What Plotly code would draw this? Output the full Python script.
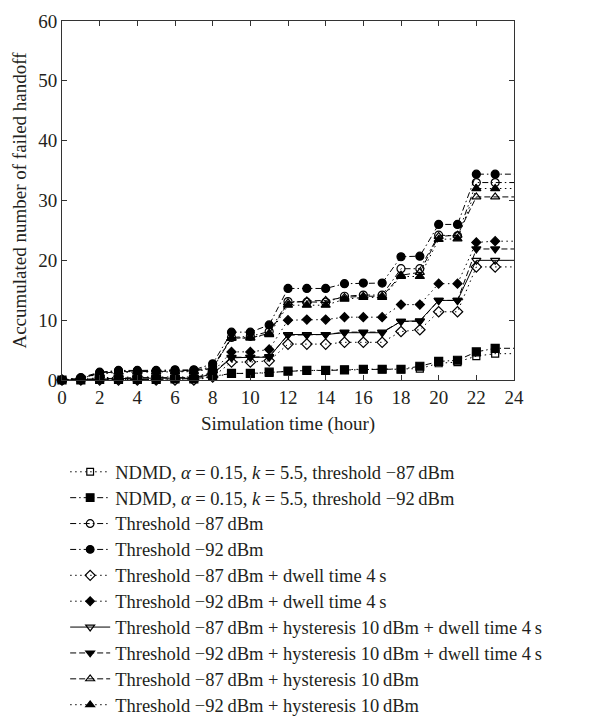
import plotly.graph_objects as go

hours = list(range(0, 25))

ndmd_87 = [0, 0, 0.1, 0.1, 0.1, 0.1, 0.2, 0.2, 0.5, 1.1, 1.1, 1.2, 1.5, 1.6, 1.6, 1.7, 1.8, 1.8, 1.8, 1.9, 2.8, 3.0, 4.0, 4.4, 4.4]
ndmd_92 = [0, 0, 0.1, 0.1, 0.1, 0.1, 0.2, 0.2, 0.6, 1.1, 1.1, 1.3, 1.5, 1.6, 1.6, 1.7, 1.8, 1.8, 1.8, 2.3, 3.1, 3.3, 4.7, 5.3, 5.3]
thr_87 = [0, 0.3, 1.2, 1.5, 1.5, 1.5, 1.6, 1.6, 2.2, 7.1, 7.3, 8.1, 13.1, 13.0, 13.0, 14.0, 14.2, 14.2, 18.6, 18.6, 24.2, 24.1, 33.0, 33.0, 33.0]
thr_92 = [0, 0.4, 1.3, 1.6, 1.6, 1.6, 1.7, 1.7, 2.7, 8.0, 8.0, 9.2, 15.3, 15.3, 15.3, 16.1, 16.2, 16.2, 20.6, 20.7, 26.0, 26.0, 34.4, 34.4, 34.4]
dwell_87 = [0, 0, 0, 0, 0, 0, 0, 0, 0.5, 3.0, 3.0, 3.2, 6.0, 6.0, 6.0, 6.3, 6.3, 6.3, 8.1, 8.4, 11.4, 11.4, 18.9, 18.9, 18.9]
dwell_92 = [0, 0.1, 0.4, 0.5, 0.5, 0.5, 0.5, 0.5, 1.3, 4.7, 4.7, 5.1, 10.0, 10.1, 10.1, 10.5, 10.5, 10.5, 12.6, 12.6, 16.1, 16.1, 23.0, 23.2, 23.2]
hyst_dwell_87 = [0, 0.1, 0.2, 0.3, 0.3, 0.3, 0.3, 0.3, 1.0, 3.7, 3.8, 3.8, 7.6, 7.6, 7.6, 7.9, 7.9, 7.9, 9.8, 9.9, 13.3, 13.3, 20.0, 20.0, 20.0]
hyst_dwell_92 = [0, 0.1, 0.3, 0.4, 0.4, 0.4, 0.4, 0.4, 1.1, 3.8, 3.8, 3.9, 7.5, 7.5, 7.6, 8.0, 8.0, 8.0, 9.8, 9.8, 13.3, 13.3, 21.9, 21.9, 21.9]
hyst_87 = [0, 0.3, 1.1, 1.4, 1.4, 1.4, 1.5, 1.5, 2.0, 7.0, 7.0, 7.8, 12.9, 13.2, 13.3, 13.8, 14.0, 14.0, 17.5, 18.0, 24.0, 24.2, 30.6, 30.6, 30.6]
hyst_92 = [0, 0.3, 1.0, 1.3, 1.3, 1.3, 1.4, 1.4, 1.9, 7.0, 7.1, 7.6, 12.5, 12.5, 12.5, 13.5, 13.8, 13.8, 17.3, 17.3, 23.5, 23.6, 32.0, 32.0, 32.0]

names = [
    "NDMD, <i>α</i> = 0.15, <i>k</i> = 5.5, threshold −87\u2009dBm",
    "NDMD, <i>α</i> = 0.15, <i>k</i> = 5.5, threshold −92\u2009dBm",
    "Threshold −87\u2009dBm",
    "Threshold −92\u2009dBm",
    "Threshold −87\u2009dBm + dwell time 4\u2009s",
    "Threshold −92\u2009dBm + dwell time 4\u2009s",
    "Threshold −87\u2009dBm + hysteresis 10\u2009dBm + dwell time 4\u2009s",
    "Threshold −92\u2009dBm + hysteresis 10\u2009dBm + dwell time 4\u2009s",
    "Threshold −87\u2009dBm + hysteresis 10\u2009dBm",
    "Threshold −92\u2009dBm + hysteresis 10\u2009dBm",
]
series = [ndmd_87, ndmd_92, thr_87, thr_92, dwell_87, dwell_92,
          hyst_dwell_87, hyst_dwell_92, hyst_87, hyst_92]

DOT = "1.5px,3.5px"
DASH = "6px,3px"
DASHDOT = "6px,3px,1.5px,3px"
styles = [
    ("square-open", DOT, 7),
    ("square", DASHDOT, 8),
    ("circle-open", DASHDOT, 8),
    ("circle", DASHDOT, 8),
    ("diamond-open", DOT, 8),
    ("diamond", DOT, 7),
    ("triangle-down-open", "solid", 8),
    ("triangle-down", DASH, 8),
    ("triangle-up-open", DASH, 8),
    ("triangle-up", DOT, 8),
]

FONT = "Liberation Serif"
INK = "#231f20"
LEG_TEXT = 18.5

fig = go.Figure()
for name, ys, (sym, dash, sz) in zip(names, series, styles):
    sizes = [sz] * (len(hours) - 1) + [0]
    fig.add_trace(go.Scatter(
        x=hours, y=ys, name=f'<span style="font-size:{LEG_TEXT}px">{name}</span>',
        mode="lines+markers",
        line=dict(color="black", width=1, dash=dash),
        marker=dict(symbol=sym, size=sizes, color="black", opacity=1,
                    line=dict(color="black", width=1.2)),
        cliponaxis=False,
    ))

axis_common = dict(
    showline=True, linecolor="#333", linewidth=1, mirror="ticks",
    ticks="inside", ticklen=5, tickcolor="#333", showgrid=False, zeroline=False,
    tickfont=dict(family=FONT, size=19, color=INK),
)
fig.update_xaxes(range=[0, 24], dtick=2, tick0=0,
                 title=dict(text="Simulation time (hour)", font=dict(family=FONT, size=19, color=INK), standoff=9),
                 **axis_common)
fig.update_yaxes(range=[0, 60], dtick=10, tick0=0,
                 title=dict(text="Accumulated number of failed handoff", font=dict(family=FONT, size=19, color=INK), standoff=6),
                 **axis_common)

fig.update_layout(
    width=606, height=725,
    margin=dict(l=62, r=92, t=11, b=345),
    plot_bgcolor="white", paper_bgcolor="white",
    font=dict(family=FONT, size=17, color=INK),
    legend=dict(x=0.007, xanchor="left", yref="container", y=0.374, yanchor="top",
                bgcolor="rgba(0,0,0,0)", itemwidth=40,
                font=dict(family=FONT, size=17.6, color=INK),
                tracegroupgap=0),
    showlegend=True,
)

fig.write_html("out.html")
